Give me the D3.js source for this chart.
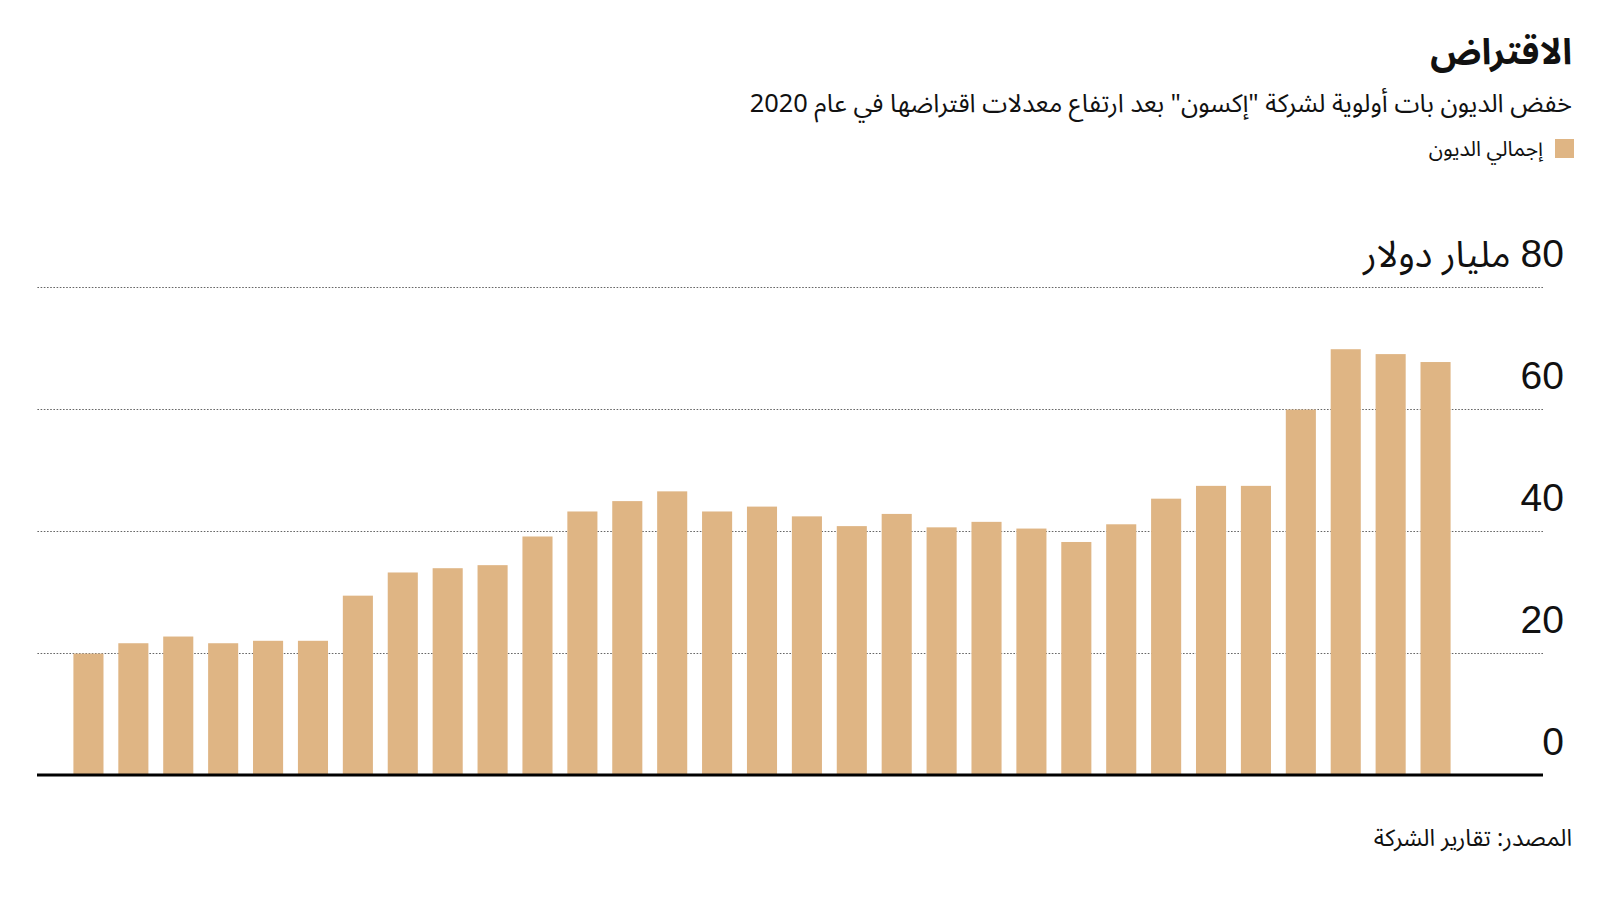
<!DOCTYPE html>
<html lang="ar">
<head>
<meta charset="utf-8">
<script src="https://cdn.jsdelivr.net/npm/d3@7"></script>
<style>
  html, body { margin: 0; padding: 0; background: #fff; }
  svg { display: block; }
  text { font-family: "Noto Sans Arabic", "DejaVu Sans", "Noto Sans", sans-serif; }
  .num { font-family: "Liberation Sans", Arial, sans-serif; }
</style>
</head>
<body>
<svg id="chart" width="1600" height="900"></svg>
<script>
// ---- data ----
const categories = d3.range(1, 32).map(i => "b" + i);
const totalDebt = [19.9, 21.6, 22.7, 21.6, 22.0, 22.0, 29.4, 33.2, 33.9, 34.4,
                   39.1, 43.2, 44.9, 46.5, 43.2, 44.0, 42.4, 40.8, 42.8, 40.6,
                   41.5, 40.4, 38.2, 41.1, 45.3, 47.4, 47.4, 59.9, 69.8, 69.0, 67.7];
const yTicks = [0, 20, 40, 60, 80];
const unitLabel = "مليار دولار";
const titleText = "الاقتراض";
const subtitleText = "خفض الديون بات أولوية لشركة \"إكسون\" بعد ارتفاع معدلات اقتراضها في عام 2020";
const legendLabel = "إجمالي الديون";
const sourceText = "المصدر: تقارير الشركة";

// ---- layout ----
const svg = d3.select("#chart");
const plotLeft = 37, plotRight = 1543;
const barColor = "#DFB584";

const x = d3.scaleBand()
  .domain(categories)
  .range([66, 1458])
  .paddingInner(0.33)
  .paddingOuter(0.165);

const y = d3.scaleLinear().domain([0, 80]).range([775, 287]);

// gridlines (dotted)
const gridAxis = d3.axisLeft(y)
  .tickValues(yTicks.filter(d => d !== 0))
  .tickSize(plotRight - plotLeft)
  .tickFormat("");
const gridG = svg.append("g")
  .attr("transform", `translate(${plotRight},0)`)
  .call(gridAxis);
gridG.select(".domain").remove();
gridG.selectAll(".tick line")
  .attr("stroke", "#666")
  .attr("stroke-width", 1.2)
  .attr("stroke-dasharray", "1.6,1.6");

// bars
svg.append("g").selectAll("rect")
  .data(totalDebt)
  .join("rect")
  .attr("x", (d, i) => x(categories[i]))
  .attr("width", x.bandwidth())
  .attr("y", d => y(d))
  .attr("height", d => y(0) - y(d))
  .attr("fill", barColor);

// baseline
svg.append("line")
  .attr("x1", plotLeft).attr("x2", plotRight)
  .attr("y1", y(0)).attr("y2", y(0))
  .attr("stroke", "#000").attr("stroke-width", 3);

// tick labels
const labelAxis = d3.axisRight(y).tickValues(yTicks).tickSize(0).tickFormat(d => String(d));
const labG = svg.append("g").attr("transform", "translate(1564,0)").call(labelAxis);
labG.select(".domain").remove();
labG.selectAll(".tick text")
  .attr("class", "num")
  .attr("x", 0)
  .attr("dy", -21)
  .attr("text-anchor", "end")
  .attr("font-size", 39)
  .attr("fill", "#111");
labG.selectAll(".tick text").each(function(d) {
  if (d === 80) {
    const w = this.getComputedTextLength();
    d3.select(this.parentNode).append("text")
      .attr("x", -w - 10)
      .attr("dy", -21)
      .attr("text-anchor", "end")
      .attr("font-size", 37)
      .attr("fill", "#111")
      .text(unitLabel);
  }
});

// title, subtitle, legend, source
svg.append("text")
  .attr("x", 1572).attr("y", 64)
  .attr("direction", "rtl").attr("text-anchor", "start")
  .attr("font-size", 36).attr("font-weight", "bold").attr("fill", "#111")
  .text(titleText);

svg.append("text")
  .attr("x", 1572).attr("y", 112)
  .attr("direction", "rtl").attr("text-anchor", "start")
  .attr("font-size", 25.4).attr("fill", "#111")
  .text(subtitleText);

svg.append("rect")
  .attr("x", 1555).attr("y", 139).attr("width", 19).attr("height", 19)
  .attr("fill", barColor);
svg.append("text")
  .attr("x", 1543).attr("y", 156)
  .attr("direction", "rtl").attr("text-anchor", "start")
  .attr("font-size", 21).attr("fill", "#111")
  .text(legendLabel);

svg.append("text")
  .attr("x", 1572).attr("y", 846)
  .attr("direction", "rtl").attr("text-anchor", "start")
  .attr("font-size", 23.5).attr("fill", "#111")
  .text(sourceText);
</script>
</body>
</html>
